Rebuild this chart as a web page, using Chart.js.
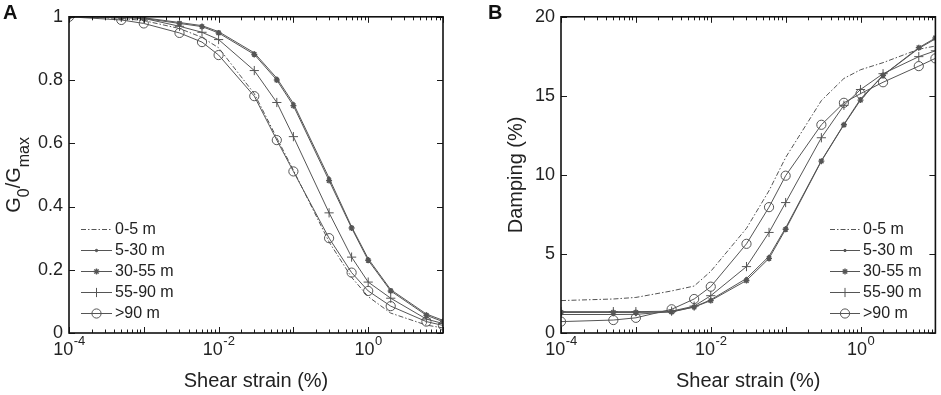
<!DOCTYPE html>
<html><head><meta charset="utf-8">
<script src="https://cdn.jsdelivr.net/npm/chart.js@4.4.1/dist/chart.umd.min.js"></script>
<style>
html,body{margin:0;padding:0;background:#fff;}
#wrap{position:relative;width:941px;height:395px;overflow:hidden;background:#fff;}
canvas{position:absolute;top:0;}
</style></head><body>
<div id="wrap">
<canvas id="cA" width="470" height="395" style="left:0px"></canvas>
<canvas id="cB" width="471" height="395" style="left:470px"></canvas>
</div>
<script>
// ---------- data ----------
const strain = [1e-4, 5e-4, 1e-3, 3e-3, 6e-3, 1e-2, 3e-2, 6e-2, 0.1, 0.3, 0.6, 1, 2, 6, 10];
const seriesLabels = ['0-5 m', '5-30 m', '30-55 m', '55-90 m', '>90 m'];

const modulus_0_5   = [1.0, 0.995, 0.988, 0.963, 0.935, 0.902, 0.757, 0.617, 0.515, 0.288, 0.176, 0.115, 0.063, 0.025, 0.016];
const modulus_5_30  = [1.0, 0.999, 0.997, 0.982, 0.972, 0.953, 0.886, 0.806, 0.726, 0.490, 0.336, 0.235, 0.137, 0.060, 0.040];
const modulus_30_55 = [1.0, 0.998, 0.995, 0.979, 0.969, 0.949, 0.881, 0.800, 0.719, 0.482, 0.332, 0.230, 0.133, 0.056, 0.036];
const modulus_55_90 = [1.0, 0.998, 0.995, 0.970, 0.951, 0.928, 0.830, 0.729, 0.621, 0.380, 0.240, 0.161, 0.110, 0.044, 0.030];
const modulus_90    = [1.0, 0.990, 0.979, 0.949, 0.920, 0.879, 0.749, 0.610, 0.511, 0.300, 0.191, 0.133, 0.085, 0.036, 0.024];

const damping_0_5   = [2.05, 2.15, 2.25, 2.66, 2.97, 3.90, 6.62, 9.00, 11.10, 14.70, 16.10, 16.65, 17.10, 17.95, 18.15];
const damping_5_30  = [1.17, 1.17, 1.18, 1.35, 1.65, 2.10, 3.45, 4.85, 6.65, 10.90, 13.20, 14.80, 16.30, 18.00, 18.60];
const damping_30_55 = [1.30, 1.30, 1.30, 1.33, 1.64, 2.05, 3.32, 4.72, 6.56, 10.87, 13.17, 14.73, 16.30, 18.05, 18.66];
const damping_55_90 = [1.35, 1.35, 1.35, 1.38, 1.70, 2.36, 4.20, 6.36, 8.25, 12.35, 14.40, 15.40, 16.40, 17.48, 17.85];
const damping_90    = [0.72, 0.82, 0.96, 1.50, 2.15, 2.93, 5.64, 7.96, 9.95, 13.17, 14.56, 15.14, 15.86, 16.88, 17.37];

const xTickExponents = [-4, -2, 0];
const modulusTicks = [0, 0.2, 0.4, 0.6, 0.8, 1];
const dampingTicks = [0, 5, 10, 15, 20];

// ---------- styles ----------
const FONT = '"Liberation Sans", Arial, Helvetica, sans-serif';
const LINE = '#555555';
const styles = [
  {pointStyle: 'circle', radius: 0, dash: [5, 2, 1.5, 2], fill: LINE},
  {pointStyle: 'circle', radius: 1.2, dash: [], fill: LINE},
  {pointStyle: 'star', radius: 3.0, dash: [], fill: LINE},
  {pointStyle: 'cross', radius: 4.6, dash: [], fill: LINE},
  {pointStyle: 'circle', radius: 4.6, dash: [], fill: 'rgba(255,255,255,0)'}
];

function makeDatasets(seriesList) {
  return seriesList.map((vals, i) => ({
    label: seriesLabels[i],
    data: strain.map((s, k) => ({x: s, y: vals[k]})),
    borderColor: LINE,
    borderWidth: 1,
    borderDash: styles[i].dash,
    pointStyle: styles[i].pointStyle,
    pointRadius: styles[i].radius,
    pointBorderColor: LINE,
    pointBackgroundColor: styles[i].fill,
    pointBorderWidth: i === 2 ? 1.4 : 1,
    tension: 0,
    fill: false
  }));
}

function drawMarker(ctx, st, x, y, bw) {
  if (!st.radius) return;
  ctx.save();
  ctx.strokeStyle = LINE; ctx.fillStyle = st.fill; ctx.lineWidth = bw; ctx.setLineDash([]);
  if (Chart.helpers && Chart.helpers.drawPoint) {
    Chart.helpers.drawPoint(ctx, {pointStyle: st.pointStyle, radius: st.radius, rotation: 0, borderWidth: bw}, x, y);
  } else {
    ctx.beginPath(); ctx.arc(x, y, st.radius, 0, Math.PI * 2); ctx.fill(); ctx.stroke();
  }
  ctx.restore();
}

const decor = {
  id: 'decor',
  afterDraw(chart, args, o) {
    const ctx = chart.ctx, a = chart.chartArea, xs = chart.scales.x, ys = chart.scales.y;
    ctx.save();
    // inward ticks
    ctx.strokeStyle = '#1a1a1a'; ctx.lineWidth = 1; ctx.setLineDash([]);
    ctx.beginPath();
    const lo = Math.round(Math.log10(xs.min)), hi = Math.round(Math.log10(xs.max));
    for (let e = lo; e <= hi; e++) {
      for (let m = 1; m <= 9; m++) {
        if (e === hi && m > 1) break;
        const px = Math.round(xs.getPixelForValue(m * Math.pow(10, e))) + 0.5;
        const L = m === 1 ? 6 : 3.5;
        ctx.moveTo(px, a.bottom); ctx.lineTo(px, a.bottom - L);
        ctx.moveTo(px, a.top); ctx.lineTo(px, a.top + L);
      }
    }
    ys.ticks.forEach(t => {
      const py = Math.round(ys.getPixelForValue(t.value)) + 0.5;
      ctx.moveTo(a.left, py); ctx.lineTo(a.left + 6, py);
      ctx.moveTo(a.right, py); ctx.lineTo(a.right - 6, py);
    });
    ctx.stroke();
    // box
    ctx.lineWidth = 1.6; ctx.strokeStyle = '#111';
    ctx.strokeRect(a.left, a.top, a.right - a.left, a.bottom - a.top);

    // x tick labels 10^e
    ctx.fillStyle = '#222'; ctx.textBaseline = 'alphabetic'; ctx.textAlign = 'left';
    xTickExponents.forEach(e => {
      const px = xs.getPixelForValue(Math.pow(10, e));
      const base = '10', ex = String(e);
      ctx.font = '18px ' + FONT; const w1 = ctx.measureText(base).width;
      ctx.font = '13px ' + FONT; const w2 = ctx.measureText(ex).width;
      const x0 = px - (w1 + w2) / 2;
      ctx.font = '18px ' + FONT; ctx.fillText(base, x0, a.bottom + 22);
      ctx.font = '13px ' + FONT; ctx.fillText(ex, x0 + w1 + 0.5, a.bottom + 12);
    });
    // x title
    ctx.font = '20px ' + FONT; ctx.textAlign = 'center';
    ctx.fillText('Shear strain (%)', (a.left + a.right) / 2, a.bottom + 54);

    // y title (rotated, with optional subscripts)
    ctx.save();
    ctx.translate(o.yTitleX, (a.top + a.bottom) / 2);
    ctx.rotate(-Math.PI / 2);
    ctx.textAlign = 'left';
    let total = 0;
    o.yTitle.forEach(p => { ctx.font = (p.sub ? '16px ' : '20px ') + FONT; total += ctx.measureText(p.t).width; });
    let cx = -total / 2;
    o.yTitle.forEach(p => {
      ctx.font = (p.sub ? '16px ' : '20px ') + FONT;
      ctx.fillText(p.t, cx, p.sub ? 9 : 0);
      cx += ctx.measureText(p.t).width;
    });
    ctx.restore();

    // panel letter
    ctx.font = 'bold 20px ' + FONT; ctx.textAlign = 'left';
    ctx.fillStyle = '#111';
    ctx.fillText(o.letter, o.letterX, 19);

    // legend
    const L = o.legend;
    chart.data.datasets.forEach((ds, i) => {
      const yy = L.y0 + i * L.dy;
      ctx.save();
      ctx.strokeStyle = LINE; ctx.lineWidth = 1; ctx.setLineDash(styles[i].dash);
      ctx.beginPath(); ctx.moveTo(L.x, yy + 0.5); ctx.lineTo(L.x + L.len, yy + 0.5); ctx.stroke();
      ctx.restore();
      drawMarker(ctx, styles[i], L.x + L.len / 2, yy + 0.5, i === 2 ? 1.4 : 1);
      ctx.fillStyle = '#222'; ctx.font = '16px ' + FONT; ctx.textBaseline = 'middle'; ctx.textAlign = 'left';
      ctx.fillText(ds.label, L.x + L.len + 3, yy + 1);
    });
    ctx.restore();
  }
};

function makeChart(id, series, yMax, yTicks, yWidth, pad, decorOpts) {
  return new Chart(document.getElementById(id), {
    type: 'line',
    data: {datasets: makeDatasets(series)},
    options: {
      responsive: false, animation: false, devicePixelRatio: 1,
      layout: {padding: pad},
      plugins: {legend: {display: false}, tooltip: {enabled: false}, decor: decorOpts},
      scales: {
        x: {
          type: 'logarithmic', min: 1e-4, max: 10,
          grid: {display: false}, border: {display: false},
          ticks: {display: false},
          afterFit: s => { s.height = 62; }
        },
        y: {
          type: 'linear', min: 0, max: yMax,
          grid: {display: false, drawTicks: false}, border: {display: false},
          afterBuildTicks: s => { s.ticks = yTicks.map(v => ({value: v})); },
          ticks: {color: '#222', padding: 6, font: {family: FONT, size: 18},
                  callback: v => String(v)},
          afterFit: s => { s.width = yWidth; }
        }
      }
    },
    plugins: [decor]
  });
}

makeChart('cA', [modulus_0_5, modulus_5_30, modulus_30_55, modulus_55_90, modulus_90], 1, modulusTicks, 69,
  {top: 7, right: 27, left: 0, bottom: 0},
  {yTitle: [{t: 'G'}, {t: '0', sub: true}, {t: '/G'}, {t: 'max', sub: true}], yTitleX: 20,
   letter: 'A', letterX: 3, legend: {x: 81, y0: 229, dy: 21, len: 31}});

makeChart('cB', [damping_0_5, damping_5_30, damping_30_55, damping_55_90, damping_90], 20, dampingTicks, 91,
  {top: 8, right: 5, left: 0, bottom: 0},
  {yTitle: [{t: 'Damping (%)'}], yTitleX: 52,
   letter: 'B', letterX: 18, legend: {x: 360, y0: 229, dy: 21, len: 30}});
</script>
</body></html>
